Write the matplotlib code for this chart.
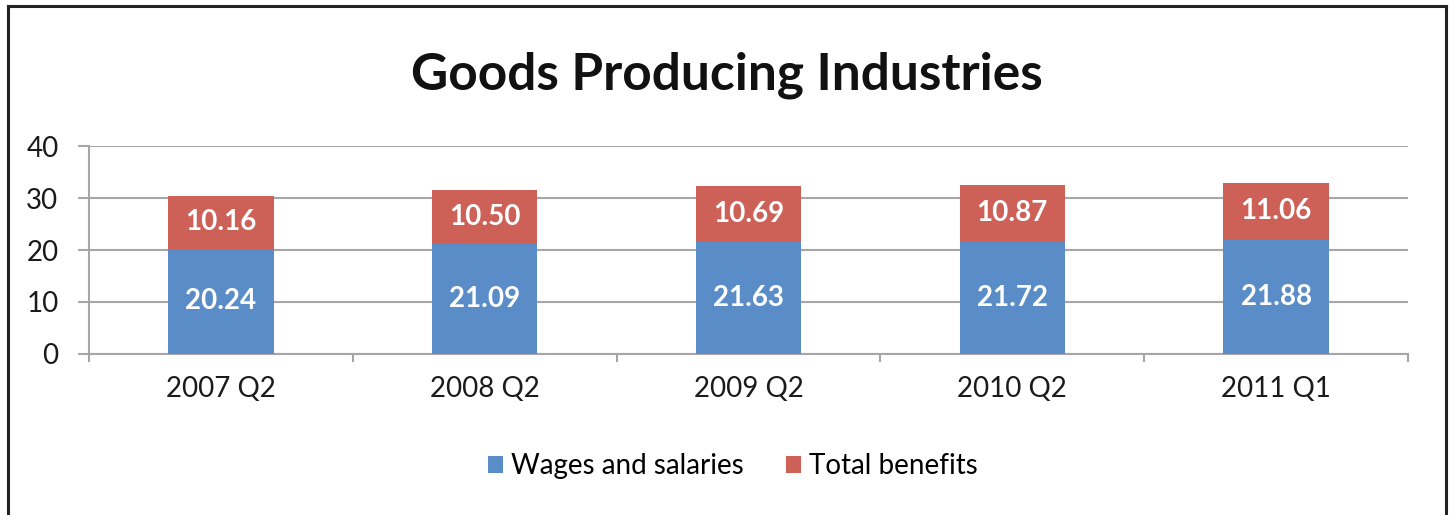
import matplotlib
matplotlib.use("Agg")
import matplotlib.pyplot as plt
from matplotlib.lines import Line2D
import numpy as np

categories = ["2007 Q2", "2008 Q2", "2009 Q2", "2010 Q2", "2011 Q1"]
wages = [20.24, 21.09, 21.63, 21.72, 21.88]
benefits = [10.16, 10.50, 10.69, 10.87, 11.06]
yticks = [0, 10, 20, 30, 40]

plt.rcParams['font.family'] = ['Lato', 'DejaVu Sans']

W, H, DPI = 1453, 515, 100
fig = plt.figure(figsize=(W / DPI, H / DPI), dpi=DPI)
ax = fig.add_axes([89 / W, 1 - 354 / H, (1408 - 89) / W, (354 - 146) / H])

blue = "#5A8DC8"
red = "#CD6158"
x = np.arange(len(categories))
bw = 0.4
ax.bar(x, wages, bw, color=blue, label="Wages and salaries", zorder=3)
ax.bar(x, benefits, bw, bottom=wages, color=red, label="Total benefits", zorder=3)

for xi, w, b in zip(x, wages, benefits):
    ax.text(xi, w / 2, f"{w:.2f}", ha="center", va="center", color="white",
            fontsize=20, fontweight="bold", zorder=4)
    ax.text(xi, w + b / 2, f"{b:.2f}", ha="center", va="center", color="white",
            fontsize=20, fontweight="bold", zorder=4)

ax.set_xlim(-0.5, len(categories) - 0.5)
ax.set_ylim(0, 40)
ax.set_yticks(yticks)
ax.set_yticklabels([str(v) for v in yticks])
ax.set_xticks(x)
ax.set_xticklabels(categories)
ax.set_xticks(np.arange(-0.5, len(categories)), minor=True)

grid_c = "#A6A6A6"
ax.yaxis.grid(True, color=grid_c, linewidth=1.5, zorder=0)
for s in ["top", "right"]:
    ax.spines[s].set_visible(False)
for s in ["left", "bottom"]:
    ax.spines[s].set_color(grid_c)
    ax.spines[s].set_linewidth(1.5)

ax.tick_params(axis="y", length=8, width=1.5, color=grid_c, labelsize=20, pad=14,
               labelcolor="#1a1a1a")
ax.tick_params(axis="x", which="major", length=0, labelsize=20, pad=16,
               labelcolor="#1a1a1a")
ax.tick_params(axis="x", which="minor", length=6, width=1.5, color=grid_c)

fig.text(0.5, 1 - 75 / H, "Goods Producing Industries", ha="center", va="center",
         fontsize=37, fontweight="bold", color="#111111")

leg = fig.legend(loc="center", bbox_to_anchor=(733 / W, 1 - 466 / H), ncol=2,
                 frameon=False, fontsize=20, handlelength=0.55, handleheight=0.55,
                 handletextpad=0.3, columnspacing=1.5)

# outer frame (left, top, right)
lw = 2.2
fc = "#222222"
fig.add_artist(Line2D([8 / W, 8 / W], [0, 1 - 6 / H], transform=fig.transFigure, color=fc, lw=lw))
fig.add_artist(Line2D([8 / W, 1446 / W], [1 - 6 / H, 1 - 6 / H], transform=fig.transFigure, color=fc, lw=lw))
fig.add_artist(Line2D([1446 / W, 1446 / W], [0, 1 - 6 / H], transform=fig.transFigure, color=fc, lw=lw))

fig.savefig("out.png", dpi=DPI)
